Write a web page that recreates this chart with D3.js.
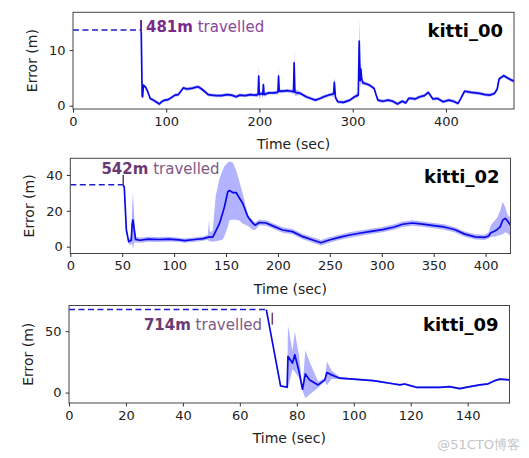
<!DOCTYPE html>
<html><head><meta charset="utf-8">
<script src="https://cdn.jsdelivr.net/npm/d3@7/dist/d3.min.js"></script>
<style>body{margin:0;background:#fff}svg{display:block}text{font-family:"DejaVu Sans",sans-serif}</style>
</head><body><svg id="c" width="529" height="458"></svg>
<script>
// rows: [time (sec), mean error (m), band low, band high]
const kitti00 = [
[73,15.4,15.2,15.6],[74.2,1.7,1.4,2.0],[74.7,1.6,1.3,1.9],[75.5,3.7,3.3,4.0],[78,3.3,3.0,3.6],[80,2.6,2.3,2.9],
[82.8,1.3,1.0,1.6],[86,1.0,0.7,1.3],[89,0.7,0.4,1.0],[92.6,0.3,0.0,0.6],[95,0.7,0.4,1.0],[98.7,1.0,0.7,1.3],
[102,1.1,0.8,1.4],[105,1.4,1.1,1.7],[109.4,1.9,1.6,2.2],[113,2.0,1.7,2.3],[118.3,3.2,2.9,3.5],[122,3.0,2.7,3.3],
[127.2,3.1,2.8,3.4],[131,3.3,3.0,3.6],[134.3,3.4,3.1,3.7],[138,3.0,2.7,3.3],[141.5,2.5,2.2,2.8],[145,2.0,1.7,2.3],
[148.7,1.9,1.6,2.2],[154,1.8,1.5,2.1],[159.4,1.8,1.5,2.1],[165,2.0,1.7,2.3],[170,1.9,1.6,2.2],[175,1.6,1.3,1.9],
[179,1.9,1.6,2.2],[185,1.8,1.5,2.1],[190,2.0,1.7,2.3],[195,1.9,1.6,2.2],[198.5,2.0,1.5,2.4],[199.2,5.3,3.0,7.4],
[199.8,2.0,1.2,2.6],[202,2.2,1.9,2.5],[203.6,2.0,1.4,2.4],[204.2,3.8,2.5,4.3],[205,2.0,1.6,2.4],[210,2.3,2.0,2.6],
[215,2.3,2.0,2.6],[219.8,2.4,2.0,2.8],[220.5,5.3,3.5,6.8],[221.2,2.6,2.2,3.0],[225,2.6,2.3,2.9],[230,2.7,2.4,3.0],
[234,2.6,2.3,2.9],[236.5,2.5,2.0,3.0],[237.2,7.7,4.5,10.3],[238,2.4,1.8,3.0],[244,2.2,1.9,2.5],[250,1.6,1.3,1.9],
[255,1.3,1.0,1.6],[260,1.0,0.7,1.3],[265,1.3,1.0,1.6],[269,1.6,1.3,1.9],[276,2.0,1.7,2.3],[279.5,2.1,1.6,2.5],
[280.3,4.2,3.0,5.3],[281.5,1.5,1.0,1.9],[284,0.7,0.4,1.0],[290,0.6,0.3,0.9],[297,1.0,0.7,1.3],[302,1.6,1.3,1.9],
[306,1.9,1.5,2.4],[307,11.6,8.0,15.8],[308,4.5,3.0,6.5],[308.8,6.6,4.5,8.0],[309.6,4.9,3.8,5.8],[311,4.1,3.7,4.5],
[315,3.9,3.6,4.2],[318,3.7,3.4,4.0],[323,3.1,2.8,3.4],[325,2.0,1.7,2.3],[327,1.0,0.7,1.3],[332,0.8,0.5,1.1],
[338,1.0,0.7,1.3],[343,0.8,0.5,1.1],[348,0.3,0.0,0.6],[353,0.8,0.5,1.1],[357,0.5,0.2,0.8],[360,1.3,1.0,1.6],
[363,1.3,1.0,1.6],[367,1.2,0.9,1.5],[372,1.6,1.3,1.9],[377,1.8,1.5,2.1],[381,2.4,2.1,2.7],[386,1.2,0.9,1.5],
[391,1.3,1.0,1.6],[397,0.7,0.4,1.0],[403,1.0,0.7,1.3],[408,0.8,0.5,1.1],[413,0.4,0.1,0.7],[416,1.3,1.0,1.6],
[420,2.6,2.3,2.9],[427,2.4,2.1,2.7],[436,2.2,1.9,2.5],[442,2.0,1.7,2.3],[447,1.9,1.6,2.2],[452,2.2,1.9,2.5],
[455,3.0,2.7,3.3],[457,4.8,4.5,5.1],[462,5.4,5.1,5.7],[468,4.8,4.5,5.1],[473,4.4,4.1,4.7]
];
const kitti02 = [
[51,34.5,34.5,34.5],[52,33,32,34],[54,9.3,8,11],[56.2,2.8,1.5,4],[58.7,3.6,1,6],[59.5,12,2,22],[60.3,14.9,-1.5,29.8],
[61.5,10,2,18],[62.9,4.1,2.5,5.5],[67,3.6,2.2,5],[75,4.2,2.8,5.6],[85,4.0,2.6,5.4],[95,4.2,2.9,5.5],[105,3.8,2.6,5.0],
[110,3.4,2.2,4.6],[120,4.0,2.8,5.2],[128,4.5,3.3,5.7],[132.4,5.2,3.8,6.6],[133.6,5.5,3.0,14.9],[134.5,5.3,3.0,8],
[137.2,5.3,2.8,9],[140,8.5,3,28],[143.7,13,3.5,38],[146.9,19,4,42.8],[148.5,22.3,6,45],[151.7,30.7,11,47],
[153.3,31.3,14.9,47.5],[156.5,30.2,15,47],[159.7,30.2,15,42.8],[163,27,14.5,36],[166,24.2,13,29.8],[171,16.8,11.5,18],
[172.5,15.5,11,16.5],[176,13,9.3,14.5],[178,12,9.3,13.5],[182.1,13.5,12,15],[188.5,13.2,11.7,14.7],[195,11.6,10.1,13.1],
[204.5,9.3,7.8,10.8],[214,8.4,6.9,9.9],[224,5.6,4.1,7.1],[233.5,3.7,2.2,5.2],[241.5,2.2,0.7,3.7],[249.5,3.7,2.2,5.2],
[259,5.2,3.7,6.7],[269,6.5,5,8],[278.5,7.5,6,9],[288,8.4,6.9,9.9],[300.7,9.5,8,11],[312,11,9.5,12.5],
[320,12.5,11,14],[329.6,13.2,11.7,14.7],[339.2,12.6,11.1,14.1],[352,11.6,10.1,13.1],[360,11,9.5,12.5],[370,9.6,8,11],
[380,7,5.5,8.5],[390,5.5,4,7],[399,5.2,3.7,6.7],[403,6,4.5,8],[405,7.8,5.5,12],[408,8.5,5.5,14],[411,9.5,6,16],
[414,11,6.5,20],[416.5,14.8,7,25],[419,15.8,8,22],[421,14.5,7.5,18],[424,12,6,16]
];
const kitti09 = [
[69.3,67.6,67.6,67.6],[74.3,5.4,5.0,5.8],[76.6,4.3,3.8,4.8],[76.9,29.4,3.5,54.5],[78.5,24,19,34],[79.3,30.8,17,49.8],
[80.8,17.1,12,30],[82,2.7,1.5,4.5],[83,15.2,-4.7,34.3],[84.5,10.3,-1.5,25],[87.5,6.2,4,9],[89.8,10.3,9,11.5],
[90.6,16.3,6,25.3],[92.2,14.4,11,18],[95.1,11.7,10.8,12.6],[99.8,10.9,10.2,11.6],[106.8,9.7,9.0,10.4],[109.1,8.9,8.2,9.6],
[112.6,7.6,6.9,8.3],[116.2,6.2,5.5,6.9],[117.9,7.0,6.3,7.7],[120.2,5.4,4.7,6.1],[122,4.3,3.6,5.0],[126.7,4.3,3.6,5.0],
[130.2,4.3,3.6,5.0],[133.7,4.9,4.2,5.6],[137.2,3.2,2.5,3.9],[140.8,4.9,4.2,5.6],[144.3,6.2,5.5,6.9],[147.2,7.1,6.4,7.8],
[149.5,9.7,9.0,10.4],[151.3,10.9,10.2,11.6],[154.7,10.3,9.6,11.0]
];
const names = ["kitti_00","kitti_02","kitti_09"];
const distances = ["481m","542m","714m"];
// dashed pre-start segment: [start time, error level]
const dashed = [[73,13.6],[51,34.5],[69.3,67.6]];
// annotation: [text time, text error, anchor, marker time, marker low, marker high]
const notes = [[78.3,13.2,"start",73,13.2,15.4],[30,40.7,"start",51,34.4,40],[67.8,50.8,"end",71.4,55.3,65]];
const xDomains = [[0,473],[0,424],[0,154.7]];
const yDomains = [[-0.6,16.8],[-3.8,49.3],[-8.5,70.9]];
const xTicks = [[0,100,200,300,400],[0,50,100,150,200,250,300,350,400],[0,20,40,60,80,100,120,140]];
const yTicks = [[0,10],[0,20,40],[0,50]];
const series = [kitti00,kitti02,kitti09];

const boxes = [{l:73,r:514,t:12.3,b:109},{l:70.3,r:510.5,t:158.3,b:253.5},{l:69,r:509.5,t:305.5,b:403}];
const noteColors = [["#7a2a8a","#8d469d"],["#6a3a72","#7f5a88"],["#6a3a72","#7f5a88"]];
const svg = d3.select("#c");

series.forEach((data,i)=>{
  const B = boxes[i];
  const x = d3.scaleLinear().domain(xDomains[i]).range([B.l,B.r]);
  const y = d3.scaleLinear().domain(yDomains[i]).range([B.b,B.t]);
  const g = svg.append("g");
  const cid = "clip"+i;
  g.append("clipPath").attr("id",cid).append("rect").attr("x",B.l).attr("y",B.t).attr("width",B.r-B.l).attr("height",B.b-B.t);
  const pg = g.append("g").attr("clip-path",`url(#${cid})`);
  pg.append("path").datum(data)
    .attr("d",d3.area().x(d=>x(d[0])).y0(d=>y(d[2])).y1(d=>y(d[3])))
    .attr("fill","#0000ff").attr("fill-opacity",0.3);
  pg.append("path").datum(data)
    .attr("d",d3.line().x(d=>x(d[0])).y(d=>y(d[1])))
    .attr("fill","none").attr("stroke","#0a0ae6").attr("stroke-width",1.7).attr("stroke-linejoin","round");
  pg.append("path").datum([[xDomains[i][0],dashed[i][1]],[dashed[i][0],dashed[i][1]]])
    .attr("d",d3.line().x(d=>x(d[0])).y(d=>y(d[1])))
    .attr("fill","none").attr("stroke","#1c1cd0").attr("stroke-width",1.5).attr("stroke-dasharray","6,3.5");
  // annotation
  const n = notes[i];
  g.append("line").attr("x1",x(n[3])).attr("x2",x(n[3])).attr("y1",y(n[4])).attr("y2",y(n[5]))
    .attr("stroke",noteColors[i][0]).attr("stroke-width",1.5);
  const t = g.append("text").attr("x",x(n[0])).attr("y",y(n[1])).attr("text-anchor",n[2]).attr("font-size",15);
  t.append("tspan").attr("font-weight","bold").attr("fill",noteColors[i][0]).text(distances[i]);
  t.append("tspan").attr("fill",noteColors[i][1]).text(" travelled");
  // title
  g.append("text").attr("x",B.r-11).attr("y",B.t+25).attr("text-anchor","end")
    .attr("font-size",18).attr("font-weight","bold").attr("fill","#000").text(names[i]);
  // frame
  g.append("rect").attr("x",B.l).attr("y",B.t).attr("width",B.r-B.l).attr("height",B.b-B.t)
    .attr("fill","none").attr("stroke","#444").attr("stroke-width",1);
  // axes
  const xa = g.append("g").attr("transform",`translate(0,${B.b})`)
    .call(d3.axisBottom(x).tickValues(xTicks[i]).tickSize(3.5).tickPadding(4).tickFormat(d3.format("d")));
  const ya = g.append("g").attr("transform",`translate(${B.l},0)`)
    .call(d3.axisLeft(y).tickValues(yTicks[i]).tickSize(3.5).tickPadding(4).tickFormat(d3.format("d")));
  [xa,ya].forEach(a=>{
    a.select(".domain").remove();
    a.selectAll(".tick line").attr("stroke","#333");
    a.selectAll(".tick text").attr("font-size",13).attr("fill","#222").attr("font-family","DejaVu Sans, sans-serif");
  });
  g.append("text").attr("x",(B.l+B.r)/2).attr("y",B.b+40).attr("text-anchor","middle")
    .attr("font-size",14).attr("fill","#222").text("Time (sec)");
  g.append("text").attr("transform",`translate(${B.l-36},${(B.t+B.b)/2}) rotate(-90)`).attr("text-anchor","middle")
    .attr("font-size",14).attr("fill","#222").text("Error (m)");
});
svg.append("text").attr("x",520).attr("y",449).attr("text-anchor","end").attr("font-size",13)
  .attr("fill","#c4c4c4").attr("font-family","DejaVu Sans, 'Noto Sans CJK SC', sans-serif").text("@51CTO博客");
</script></body></html>
